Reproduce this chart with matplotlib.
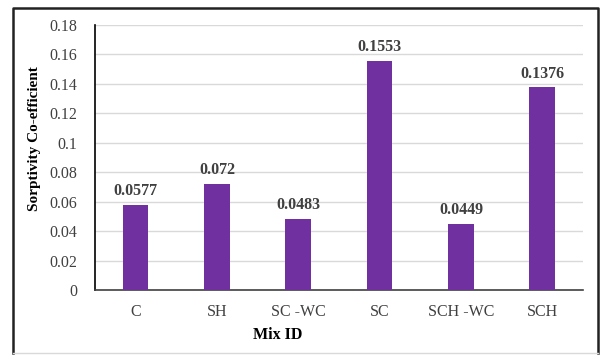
import numpy as np
import matplotlib.pyplot as plt
from matplotlib.lines import Line2D

# mix designs and their sorptivity coefficients
mix_ids = ["C", "SH", "SC -WC", "SC", "SCH -WC", "SCH"]
sorptivity = [0.0577, 0.072, 0.0483, 0.1553, 0.0449, 0.1376]
value_labels = ["0.0577", "0.072", "0.0483", "0.1553", "0.0449", "0.1376"]
y_ticks = [0, 0.02, 0.04, 0.06, 0.08, 0.1, 0.12, 0.14, 0.16, 0.18]
y_tick_labels = ["0", "0.02", "0.04", "0.06", "0.08", "0.1", "0.12", "0.14", "0.16", "0.18"]

plt.rcParams['font.family'] = ['Liberation Serif', 'DejaVu Serif']

fig = plt.figure(figsize=(6.01, 3.56), dpi=100)
ax = fig.add_axes([0.158, 0.185, 0.812, 0.745])

x = np.arange(len(mix_ids))
bars = ax.bar(x, sorptivity, width=0.315, color="#7030A0", zorder=3)

for xi, v, lab in zip(x, sorptivity, value_labels):
    ax.text(xi, v + 0.004, lab, ha="center", va="bottom",
            fontsize=11.5, fontweight="bold", color="#404040")

ax.set_xlim(-0.5, len(mix_ids) - 0.5)
ax.set_ylim(0, 0.18)
ax.set_yticks(y_ticks)
ax.set_yticklabels(y_tick_labels)
ax.set_xticks(x)
ax.set_xticklabels(mix_ids)
ax.tick_params(axis="both", length=0, labelsize=11.5, colors="#404040")
ax.tick_params(axis="y", pad=13)
ax.tick_params(axis="x", pad=10)

ax.grid(axis="y", color="#d9d9d9", linewidth=1, zorder=0)
for side in ["top", "right"]:
    ax.spines[side].set_visible(False)
ax.spines["left"].set_color("black")
ax.spines["bottom"].set_color("#404040")
ax.spines["left"].set_linewidth(1.2)
ax.spines["bottom"].set_linewidth(1.2)

fig.text(278 / 601, 1 - 335 / 356, "Mix ID", ha="center", va="center",
         fontsize=11.5, fontweight="bold", color="black")
fig.text(35 / 601, 1 - 139 / 356, "Sorptivity Co-efficient", ha="center", va="center",
         rotation=90, fontsize=11, fontweight="bold", color="black")

# frame around the whole chart: dark on three sides, faint at the bottom
x0, x1 = 13 / 601, 598 / 601
y0, y1 = 1 - 353 / 356, 1 - 8 / 356
fig.lines.append(Line2D([x0, x0, x1, x1], [y0, y1, y1, y0], transform=fig.transFigure,
                        color="#222222", linewidth=1.8))
fig.lines.append(Line2D([x0, x1], [y0, y0], transform=fig.transFigure,
                        color="#d9d9d9", linewidth=1))

fig.savefig("out.png", dpi=100)
